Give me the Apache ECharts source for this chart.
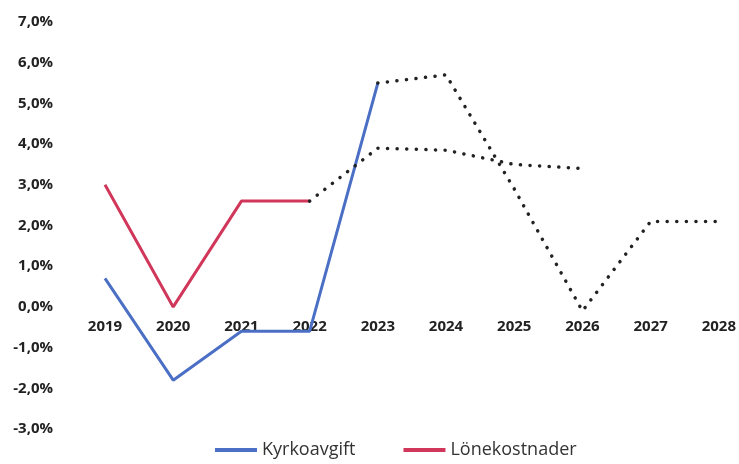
<!DOCTYPE html>
<html>
<head>
<meta charset="utf-8">
<script src="https://cdn.jsdelivr.net/npm/echarts@6/dist/echarts.min.js"></script>
<style>
  html, body { margin: 0; padding: 0; background: #fff; }
  #chart { width: 739px; height: 464px; }
</style>
</head>
<body>
<div id="chart"></div>
<script>
// years on the x axis
const years = ['2019', '2020', '2021', '2022', '2023', '2024', '2025', '2026', '2027', '2028']
// Kyrkoavgift: outcome (solid) and forecast (dotted)
const kyrkoavgift = [0.7, -1.8, -0.6, -0.6, 5.5, null, null, null, null, null]
const kyrkoavgiftProg = [null, null, null, null, 5.5, 5.7, 2.9, -0.1, 2.1, 2.1]
// Lönekostnader: outcome (solid) and forecast (dotted)
const lonekostnader = [3.0, 0.0, 2.6, 2.6, null, null, null, null, null, null]
const lonekostnaderProg = [null, null, null, 2.6, 3.9, 3.85, 3.5, 3.4, null, null]

const chart = echarts.init(document.getElementById('chart'))

const dotted = {
  color: '#222',
  width: 3.5,
  type: [0.1, 9.5],
  cap: 'round'
}

chart.setOption({
  animation: false,
  grid: {
    left: 105,
    right: 20,
    top: 22,
    bottom: 35
  },
  legend: {
    bottom: 0,
    left: 210,
    itemGap: 48,
    itemWidth: 42,
    itemHeight: 4,
    icon: 'rect',
    data: ['Kyrkoavgift', 'Lönekostnader'],
    textStyle: {
      fontFamily: 'Open Sans',
      fontSize: 18,
      color: '#333'
    }
  },
  xAxis: {
    type: 'category',
    boundaryGap: false,
    data: years,
    position: 'bottom',
    // labels sit just under the 0% level
    offset: -122,
    axisLine: { show: false, onZero: false },
    axisTick: { show: false },
    axisLabel: {
      margin: 12,
      fontFamily: 'Open Sans',
      fontWeight: 'bold',
      fontSize: 15,
      color: '#222'
    }
  },
  yAxis: {
    type: 'value',
    min: -3,
    max: 7,
    interval: 1,
    splitLine: { show: false },
    axisLine: { show: false },
    axisTick: { show: false },
    axisLabel: {
      margin: 52,
      fontFamily: 'Open Sans',
      fontWeight: 'bold',
      fontSize: 15,
      color: '#222',
      formatter: function (v) {
        return v.toFixed(1).replace('.', ',') + '%'
      }
    }
  },
  series: [
    {
      name: 'Kyrkoavgift',
      type: 'line',
      data: kyrkoavgift,
      symbol: 'none',
      color: '#4a6fc4',
      lineStyle: { width: 3, color: '#4a6fc4' }
    },
    {
      name: 'Kyrkoavgift prognos',
      type: 'line',
      data: kyrkoavgiftProg,
      symbol: 'none',
      lineStyle: dotted
    },
    {
      name: 'Lönekostnader',
      type: 'line',
      data: lonekostnader,
      symbol: 'none',
      color: '#d1375a',
      lineStyle: { width: 3, color: '#d1375a' }
    },
    {
      name: 'Lönekostnader prognos',
      type: 'line',
      data: lonekostnaderProg,
      symbol: 'none',
      lineStyle: dotted
    }
  ]
})
</script>
</body>
</html>
